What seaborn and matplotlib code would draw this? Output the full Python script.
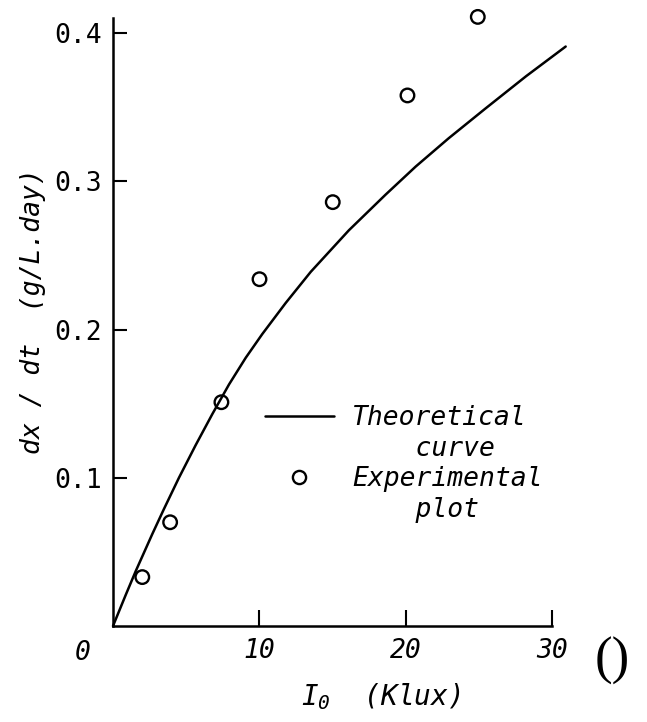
import matplotlib
matplotlib.use("Agg")
import matplotlib.pyplot as plt
from matplotlib.lines import Line2D
import seaborn as sns
import pandas as pd

# ---- data ----
exp_x = [2.0, 3.9, 7.4, 10.0, 15.0, 20.1, 24.9]
exp_y = [0.033, 0.070, 0.151, 0.234, 0.286, 0.358, 0.411]

curve_x = [0.0, 0.87, 1.55, 2.68, 3.48, 4.5, 5.64, 6.78, 7.92, 9.06, 10.19,
           11.79, 13.5, 16.1, 18.6, 20.66, 22.9, 25.4, 28.2, 30.9]
curve_y = [0.0, 0.021, 0.037, 0.062, 0.079, 0.100, 0.122, 0.143, 0.163,
           0.181, 0.197, 0.218, 0.239, 0.267, 0.291, 0.310, 0.329, 0.349,
           0.371, 0.391]

x_ticks = [10, 20, 30]
x_ticklabels = ["10", "20", "30"]
y_ticks = [0.1, 0.2, 0.3, 0.4]
y_ticklabels = ["0.1", "0.2", "0.3", "0.4"]

legend_labels = ["Theoretical", "    curve", "Experimental", "    plot"]
x_label = r"$I_0$  (Klux)"
y_label = "dx / dt  (g/L.day)"

# ---- style ----
sns.set_theme(style="ticks")
plt.rcParams["font.family"] = ["DejaVu Sans Mono", "DejaVu Sans"]
plt.rcParams["mathtext.fontset"] = "custom"
plt.rcParams["mathtext.it"] = "DejaVu Sans Mono:oblique"
plt.rcParams["mathtext.rm"] = "DejaVu Sans Mono:oblique"
for k in ["text.color", "axes.labelcolor", "xtick.color", "ytick.color",
          "axes.edgecolor"]:
    plt.rcParams[k] = "black"

W, H = 647, 722
fig = plt.figure(figsize=(W / 100, H / 100), dpi=100)
fig.patch.set_facecolor("white")

x0_px, y0_px = 113, 626
px_per_x = 14.65
px_per_y = 1482
xmax, ymax = 31.5, 0.42
ax = fig.add_axes([x0_px / W, (H - y0_px) / H,
                   xmax * px_per_x / W, ymax * px_per_y / H])
ax.set_facecolor("white")

df_curve = pd.DataFrame({"x": curve_x, "y": curve_y})
df_exp = pd.DataFrame({"x": exp_x, "y": exp_y})

sns.lineplot(data=df_curve, x="x", y="y", ax=ax, color="black",
             linewidth=1.8, estimator=None, sort=False, clip_on=False)
sns.scatterplot(data=df_exp, x="x", y="y", ax=ax, marker="o", s=95,
                facecolors="none", edgecolor="black", linewidth=1.7,
                clip_on=False, zorder=5)

ax.set_xlim(0, xmax)
ax.set_ylim(0, ymax)

for s in ["top", "right"]:
    ax.spines[s].set_visible(False)
ax.spines["left"].set_bounds(0, 0.41)
ax.spines["bottom"].set_bounds(0, 30)
for s in ["left", "bottom"]:
    ax.spines[s].set_linewidth(1.8)
    ax.spines[s].set_color("black")

ax.set_xticks(x_ticks)
ax.set_xticklabels(x_ticklabels, fontsize=19, fontstyle="oblique")
ax.set_yticks(y_ticks)
ax.set_yticklabels(y_ticklabels, fontsize=19)
ax.tick_params(axis="x", direction="in", length=11.5, width=1.5,
               pad=9, colors="black")
ax.tick_params(axis="y", direction="in", length=10, width=1.5,
               pad=8, colors="black")

ax.annotate("0", xy=(0, 0), xytext=(-30, -27), textcoords="offset pixels",
            ha="center", va="center", fontsize=19, fontstyle="oblique",
            color="black")

ax.set_xlabel(x_label, fontsize=20, fontstyle="oblique")
ax.xaxis.set_label_coords((381 - x0_px) / (xmax * px_per_x),
                          -(697 - y0_px) / (ymax * px_per_y))
ax.xaxis.label.set_va("center")
ax.set_ylabel(y_label, fontsize=19, fontstyle="oblique")
ax.yaxis.set_label_coords(-(x0_px - 33) / (xmax * px_per_x),
                          (y0_px - 311) / (ymax * px_per_y))
ax.yaxis.label.set_va("center")

# odd glyph to the right of "30"
fig.text(612 / W, 1 - 661 / H, "()", family="Liberation Serif",
         fontsize=38, ha="center", va="center", color="black")

handles = [
    Line2D([], [], color="black", linewidth=1.8),
    Line2D([], [], linestyle="none"),
    Line2D([], [], linestyle="none", marker="o", markersize=9.5,
           markerfacecolor="none", markeredgecolor="black",
           markeredgewidth=1.7),
    Line2D([], [], linestyle="none"),
]
leg = ax.legend(handles, legend_labels, loc="upper left",
                bbox_to_anchor=((265 - x0_px) / (xmax * px_per_x),
                                (y0_px - 405) / (ymax * px_per_y)),
                frameon=False, handlelength=2.6,
                handletextpad=0.7, labelspacing=0.18, borderpad=0,
                borderaxespad=0, prop={"style": "oblique", "size": 19})
for t in leg.get_texts():
    t.set_color("black")

fig.savefig("out.png", dpi=100, facecolor="white")
